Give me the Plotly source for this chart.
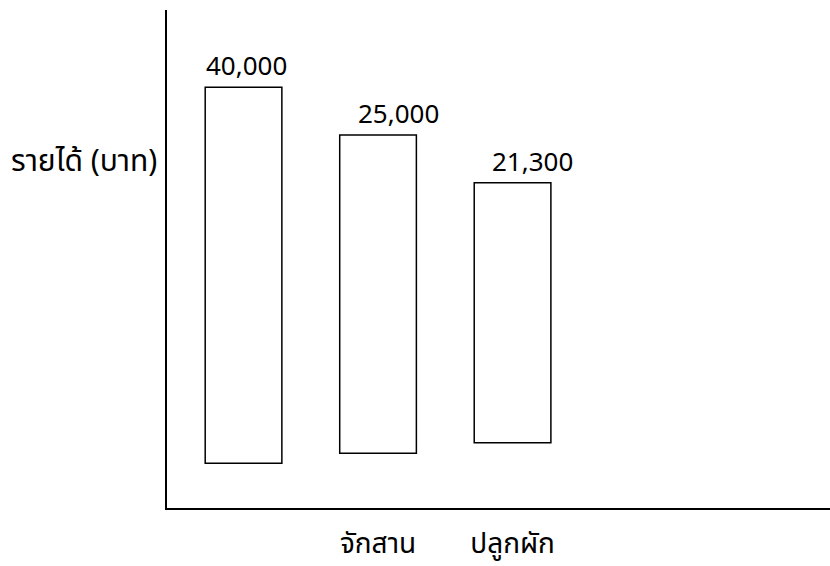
import plotly.graph_objects as go

# Data
categories = ["", "จักสาน", "ปลูกผัก"]
income_values = [40000, 25000, 21300]
# drawn bar extents (chart is not to scale): top and bottom in drawing units 0-100
bar_tops = [84.5, 74.9, 65.3]
bar_bases = [9.0, 11.0, 13.1]
y_axis_title = "รายได้ (บาท)"

xpos = list(range(len(categories)))
heights = [t - b for t, b in zip(bar_tops, bar_bases)]
label_text = [f"{v:,}" for v in income_values]
label_xshift = [3, 20, 20]

FONT = "Noto Sans Thai, Noto Sans, Tahoma, sans-serif"

fig = go.Figure()
fig.add_trace(go.Bar(
    x=xpos, y=heights, base=bar_bases, width=0.57,
    marker=dict(color="white", line=dict(color="black", width=1.5)),
    hoverinfo="skip", showlegend=False,
))

for xi, top, txt, xs in zip(xpos, bar_tops, label_text, label_xshift):
    fig.add_annotation(x=xi, y=top, text=txt, showarrow=False,
                       yanchor="bottom", xanchor="center", yshift=-2, xshift=xs,
                       font=dict(size=26, color="black", family=FONT))

fig.add_annotation(xref="paper", yref="paper", x=-0.012, y=0.695,
                   text=y_axis_title, showarrow=False, xanchor="right",
                   yanchor="middle", font=dict(size=30, color="black", family=FONT))

fig.update_layout(
    width=830, height=566,
    margin=dict(l=167, r=0, t=10, b=58),
    paper_bgcolor="white", plot_bgcolor="white",
    font=dict(family=FONT, size=22, color="black"),
    xaxis=dict(range=[-0.569, 4.36], tickvals=xpos[1:], ticktext=categories[1:],
               showline=True, linecolor="black", linewidth=1.5, showgrid=False,
               zeroline=False, ticks="", ticklabelstandoff=10, automargin=False,
               tickfont=dict(size=28, color="black", family=FONT)),
    yaxis=dict(range=[0, 100], showline=True, linecolor="black", linewidth=1.5,
               showgrid=False, zeroline=False, showticklabels=False, ticks="",
               automargin=False),
)

fig.write_html("out.html", config={"displayModeBar": False},
               post_script="document.body.style.margin='0';document.body.style.overflow='hidden';")
